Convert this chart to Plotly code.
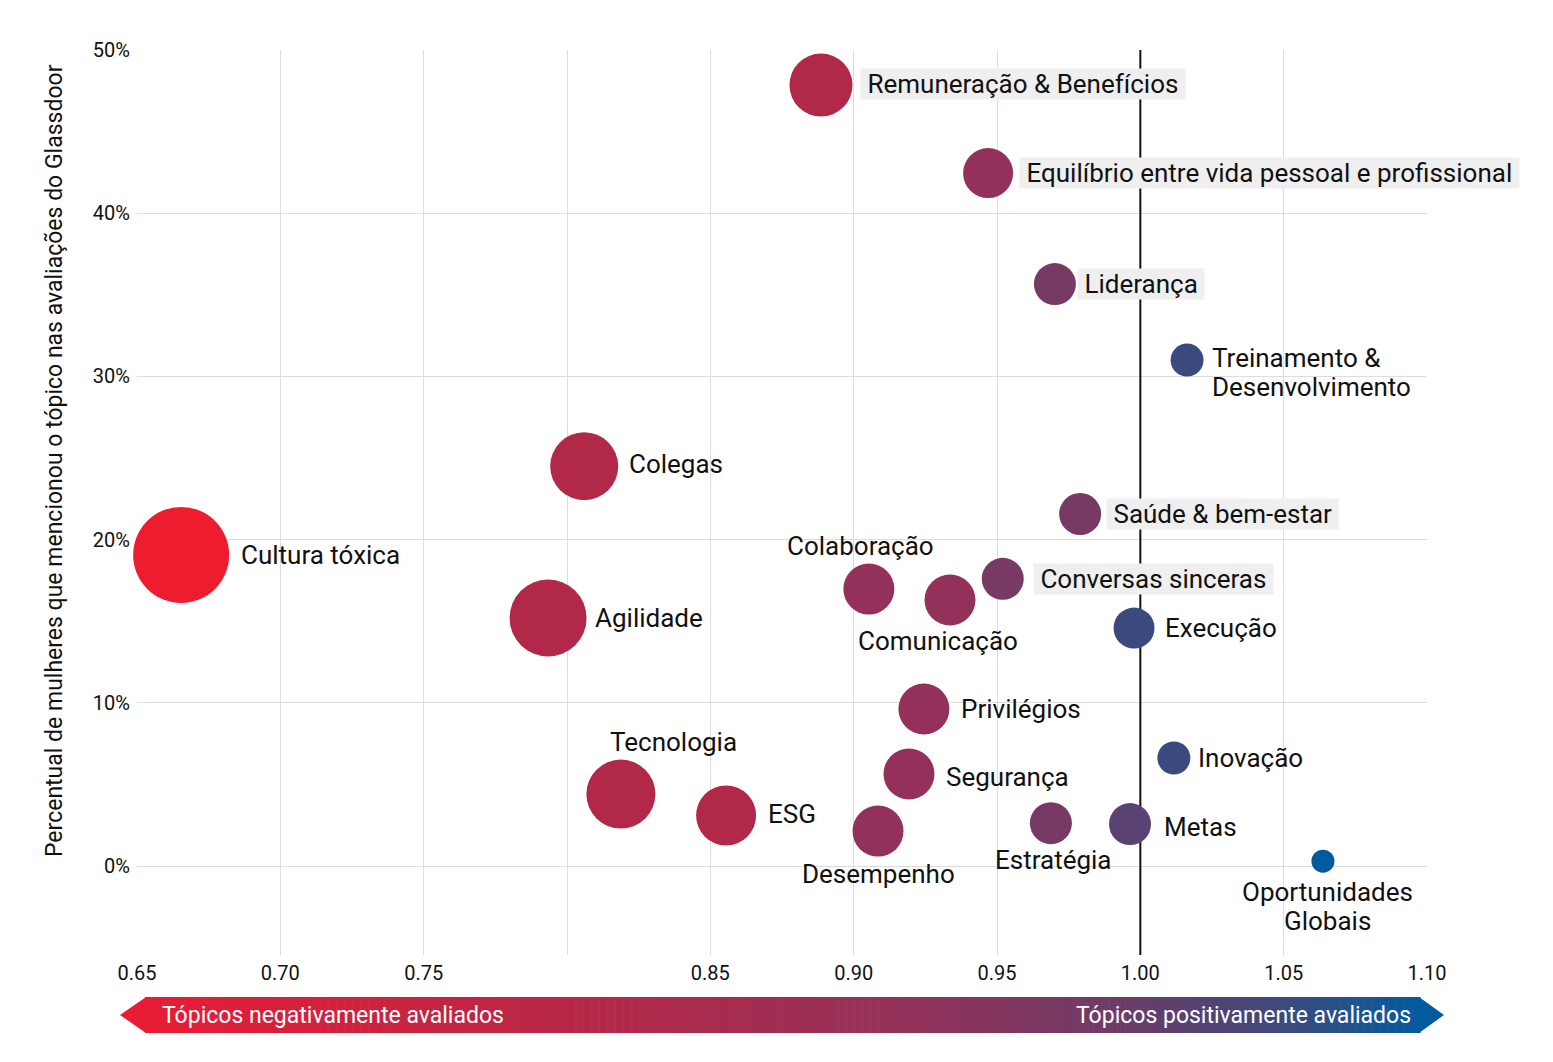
import plotly.graph_objects as go

# ---------------- data ----------------
topics = [
    "Cultura tóxica", "Colegas", "Agilidade", "Remuneração & Benefícios",
    "Equilíbrio entre vida pessoal e profissional", "Liderança",
    "Treinamento &<br>Desenvolvimento", "Saúde & bem-estar", "Colaboração",
    "Comunicação", "Conversas sinceras", "Execução", "Privilégios",
    "Tecnologia", "ESG", "Segurança", "Desempenho", "Estratégia", "Metas",
    "Inovação", "Oportunidades<br>Globais",
]
rating_ratio = [0.6654, 0.8060, 0.7934, 0.8886, 0.9469, 0.9702, 1.0163, 0.9790,
                0.9053, 0.9336, 0.9520, 0.9978, 0.9245, 0.8188, 0.8555, 0.9193,
                0.9085, 0.9688, 0.9964, 1.0117, 1.0637]
pct_women = [19.06, 24.5, 15.2, 47.85, 42.46, 35.66, 31.0, 21.57, 16.97, 16.3,
             17.6, 14.58, 9.62, 4.41, 3.1, 5.64, 2.14, 2.63, 2.57, 6.62, 0.3]
bubble_value = [96, 68, 77, 63, 50, 42, 33, 42, 51, 51, 42, 41, 51, 69, 60, 51,
                51, 42, 42, 33, 23]

x_tickvals = [0.65, 0.70, 0.75, 0.80, 0.85, 0.90, 0.95, 1.00, 1.05, 1.10]
x_ticktext = ["0.65", "0.70", "0.75", "", "0.85", "0.90", "0.95", "1.00", "1.05", "1.10"]
y_tickvals = [0, 10, 20, 30, 40, 50]
y_ticktext = ["0%", "10%", "20%", "30%", "40%", "50%"]

# ---------------- styles ----------------
RED = "#ED1C2E"
CRIMSON = "#B22848"
WINE = "#93315A"
PLUM = "#763A64"
VIOLET = "#5A4272"
NAVY = "#3B4A7E"
BLUE = "#005B9E"
topic_colors = [RED, CRIMSON, CRIMSON, CRIMSON, WINE, PLUM, NAVY, PLUM, WINE,
                WINE, PLUM, NAVY, WINE, CRIMSON, CRIMSON, WINE, WINE, PLUM,
                VIOLET, NAVY, BLUE]

# label placement: (xanchor, xshift px, yshift px of first line, boxed)
label_pos = [
    ("left", 59, 0, False), ("left", 44, 2, False), ("left", 46, 0, False),
    ("left", 39, 1, True), ("left", 31, 0, True), ("left", 22, 0, True),
    ("left", 24, 2, False), ("left", 26, 0, True), ("center", -8, 43, False),
    ("center", -12, -41, False), ("left", 30, 0, True), ("left", 30, 0, False),
    ("left", 36, 0, False), ("center", 53, 52, False), ("left", 41, 1, False),
    ("left", 36, -3, False), ("center", 0, -43, False), ("center", 3, -37, False),
    ("left", 33, -3, False), ("left", 23, 0, False), ("center", 5, -31, False),
]
LINE_STEP = 29
LABEL_SIZE = 26
TICK_SIZE = 20

FONT = "Roboto"
# page body has an 8px margin: figure origin sits at (8, 8) on screen
OFF = 8
W, H = 1553 - 2 * OFF, 1062 - 2 * OFF
PLOT_L, PLOT_R, PLOT_T, PLOT_B = 137, 1427, 50, 955   # screen pixels
L = PLOT_L - OFF
T = PLOT_T - OFF
R = W + OFF - PLOT_R
B = H + OFF - PLOT_B
PW, PH = PLOT_R - PLOT_L, PLOT_B - PLOT_T


def px_x(px):
    return (px - PLOT_L) / PW


def px_y(py):
    return (PLOT_B - py) / PH


Y_RANGE = [-5.45, 50]

fig = go.Figure()
# reference line at 1.00 (drawn beneath bubbles and labels)
fig.add_trace(go.Scatter(
    x=[1.0, 1.0], y=Y_RANGE, mode="lines",
    line=dict(color="#111111", width=2), hoverinfo="skip", showlegend=False,
))
fig.add_trace(go.Scatter(
    x=rating_ratio, y=pct_women, mode="markers", cliponaxis=False,
    marker=dict(size=bubble_value, sizemode="diameter", sizeref=1,
                color=topic_colors, opacity=1, line=dict(width=0)),
    hovertext=[t.replace("<br>", " ") for t in topics], hoverinfo="text",
    showlegend=False,
))

NBSP = "\u00a0"
annotations = []
for name, xv, yv, (xa, xs, ys, boxed) in zip(topics, rating_ratio, pct_women, label_pos):
    for k, line in enumerate(name.split("<br>")):
        annotations.append(dict(
            x=xv, y=yv, xref="x", yref="y",
            text=(NBSP + line + NBSP) if boxed else line,
            showarrow=False,
            xanchor=xa, yanchor="middle", xshift=xs, yshift=ys - k * LINE_STEP,
            font=dict(family=FONT, size=LABEL_SIZE, color="#111111"),
            bgcolor="#EFEFEF" if boxed else "rgba(0,0,0,0)",
            borderpad=0,
        ))

# y-axis title
annotations.append(dict(
    x=px_x(54), y=px_y(461), xref="paper", yref="paper",
    text="Percentual de mulheres que mencionou o tópico nas avaliações do Glassdoor",
    textangle=-90, showarrow=False, xanchor="center", yanchor="middle",
    font=dict(family=FONT, size=23, color="#111111"),
))

# gradient bar labels
annotations.append(dict(
    x=px_x(160), y=px_y(1015), xref="paper", yref="paper",
    text="Tópicos negativamente avaliados", showarrow=False,
    xanchor="left", yanchor="middle", font=dict(family=FONT, size=23, color="white"),
))
annotations.append(dict(
    x=px_x(1413), y=px_y(1015), xref="paper", yref="paper",
    text="Tópicos positivamente avaliados", showarrow=False,
    xanchor="right", yanchor="middle", font=dict(family=FONT, size=23, color="white"),
))

# gradient bar shapes
stops = [(0.0, "#E81C34"), (0.35, "#B42848"), (0.6, "#93325A"),
         (0.76, "#6E3B66"), (0.9, "#3B4A7E"), (1.0, "#035B9E")]


def hex2rgb(h):
    h = h.lstrip("#")
    return tuple(int(h[i:i + 2], 16) for i in (0, 2, 4))


def interp(t):
    for (t0, c0), (t1, c1) in zip(stops[:-1], stops[1:]):
        if t0 <= t <= t1:
            f = (t - t0) / (t1 - t0) if t1 > t0 else 0
            a, b = hex2rgb(c0), hex2rgb(c1)
            return "rgb(%d,%d,%d)" % tuple(round(a[i] + (b[i] - a[i]) * f) for i in range(3))
    return stops[-1][1]


shapes = []
x0p, x1p = 145, 1420
y0p, y1p = 997, 1033
N = 160
for i in range(N):
    a = x0p + (x1p - x0p) * i / N
    b = x0p + (x1p - x0p) * (i + 1) / N + 0.6
    shapes.append(dict(type="rect", xref="paper", yref="paper",
                       x0=px_x(a), x1=px_x(b), y0=px_y(y1p), y1=px_y(y0p),
                       fillcolor=interp((i + 0.5) / N), line=dict(width=0), layer="above"))
shapes.append(dict(type="path", xref="paper", yref="paper",
                   path="M %f,%f L %f,%f L %f,%f Z" % (px_x(146), px_y(y0p), px_x(120), px_y(1015), px_x(146), px_y(y1p)),
                   fillcolor=stops[0][1], line=dict(width=0)))
shapes.append(dict(type="path", xref="paper", yref="paper",
                   path="M %f,%f L %f,%f L %f,%f Z" % (px_x(1419), px_y(y0p), px_x(1444), px_y(1015), px_x(1419), px_y(y1p)),
                   fillcolor=stops[-1][1], line=dict(width=0)))

fig.update_layout(
    width=W, height=H,
    margin=dict(l=L, r=R, t=T, b=B),
    paper_bgcolor="white", plot_bgcolor="white",
    font=dict(family=FONT, size=TICK_SIZE, color="#111111"),
    xaxis=dict(range=[0.65, 1.10], tickvals=x_tickvals, ticktext=x_ticktext,
               showgrid=True, gridcolor="#DDDDDD", gridwidth=1, zeroline=False,
               showline=False, ticks="", ticklabelstandoff=4,
               tickfont=dict(family=FONT, size=TICK_SIZE, color="#111111")),
    yaxis=dict(range=Y_RANGE, tickvals=y_tickvals, ticktext=y_ticktext,
               showgrid=True, gridcolor="#DDDDDD", gridwidth=1, zeroline=False,
               showline=False, ticks="", ticklabelstandoff=6,
               tickfont=dict(family=FONT, size=TICK_SIZE, color="#111111")),
    annotations=annotations, shapes=shapes,
)

fig.write_html("out.html")
